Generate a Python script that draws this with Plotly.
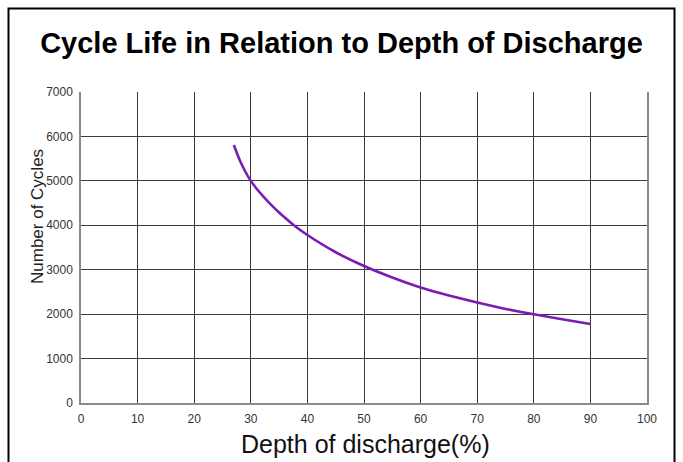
import plotly.graph_objects as go

# Data
depth_pct = [27, 28, 29, 30, 31, 32, 33, 34, 35, 36, 37.6, 40, 45, 50, 55, 60, 65, 70, 75, 80, 85, 90]
cycles = [5807, 5480, 5216, 5000, 4829, 4678, 4539, 4409, 4288, 4174, 4000, 3781, 3393, 3083,
          2825, 2600, 2420, 2260, 2118, 1996, 1884, 1778]

x_ticks = [0, 10, 20, 30, 40, 50, 60, 70, 80, 90, 100]
y_ticks = [0, 1000, 2000, 3000, 4000, 5000, 6000, 7000]

W, H = 683, 462
L, R, T, B = 81, 36, 92, 59
pw, ph = W - L - R, H - T - B

def px(xp):
    return (xp - L) / pw

def py(yp):
    return (H - B - yp) / ph

FONT = "Liberation Sans, Arial, sans-serif"

fig = go.Figure()
fig.add_trace(go.Scatter(
    x=depth_pct, y=cycles, mode="lines",
    line=dict(color="#7a1cb4", width=2.6, shape="spline", smoothing=0.6),
    hoverinfo="x+y", showlegend=False,
))

fig.update_layout(
    width=W, height=H,
    margin=dict(l=L, r=R, t=T, b=B, autoexpand=False),
    paper_bgcolor="white", plot_bgcolor="white",
    title=dict(text="<b>Cycle Life in Relation to Depth of Discharge</b>",
               x=0.5, xanchor="center", y=1 - 43 / H, yanchor="middle",
               font=dict(family=FONT, size=29, color="black")),
    xaxis=dict(range=[0, 100], tickvals=x_ticks, ticktext=[str(v) for v in x_ticks],
               showgrid=True, gridcolor="#3a3a3a", gridwidth=1,
               showline=True, linecolor="#8a8a8a", linewidth=1.5,
               zeroline=False, ticks="", ticklabelstandoff=4, automargin=False,
               tickfont=dict(family=FONT, size=12, color="#333333")),
    yaxis=dict(range=[0, 7000], tickvals=y_ticks, ticktext=[str(v) for v in y_ticks],
               showgrid=True, gridcolor="#3a3a3a", gridwidth=1,
               showline=True, linecolor="#8a8a8a", linewidth=1.5, mirror=True,
               zeroline=False, ticks="", ticklabelstandoff=4, automargin=False,
               tickfont=dict(family=FONT, size=12, color="#333333")),
    annotations=[
        dict(text="Number of Cycles", textangle=-90, xref="paper", yref="paper",
             x=px(37), y=py(217), xanchor="center", yanchor="middle", showarrow=False,
             font=dict(family=FONT, size=17, color="#222222")),
        dict(text="Depth of discharge(%)", xref="paper", yref="paper",
             x=px(365), y=py(444), xanchor="center", yanchor="middle", showarrow=False,
             font=dict(family=FONT, size=25, color="#111111")),
    ],
    shapes=[
        dict(type="rect", xref="paper", yref="paper",
             x0=px(8.5), x1=px(674.5), y0=py(475), y1=py(8.5),
             line=dict(color="black", width=2), fillcolor="rgba(0,0,0,0)", layer="above"),
    ],
)

fig.write_html("out.html", config={"displayModeBar": False},
               post_script="document.body.style.margin='0';document.body.style.overflow='hidden';")
